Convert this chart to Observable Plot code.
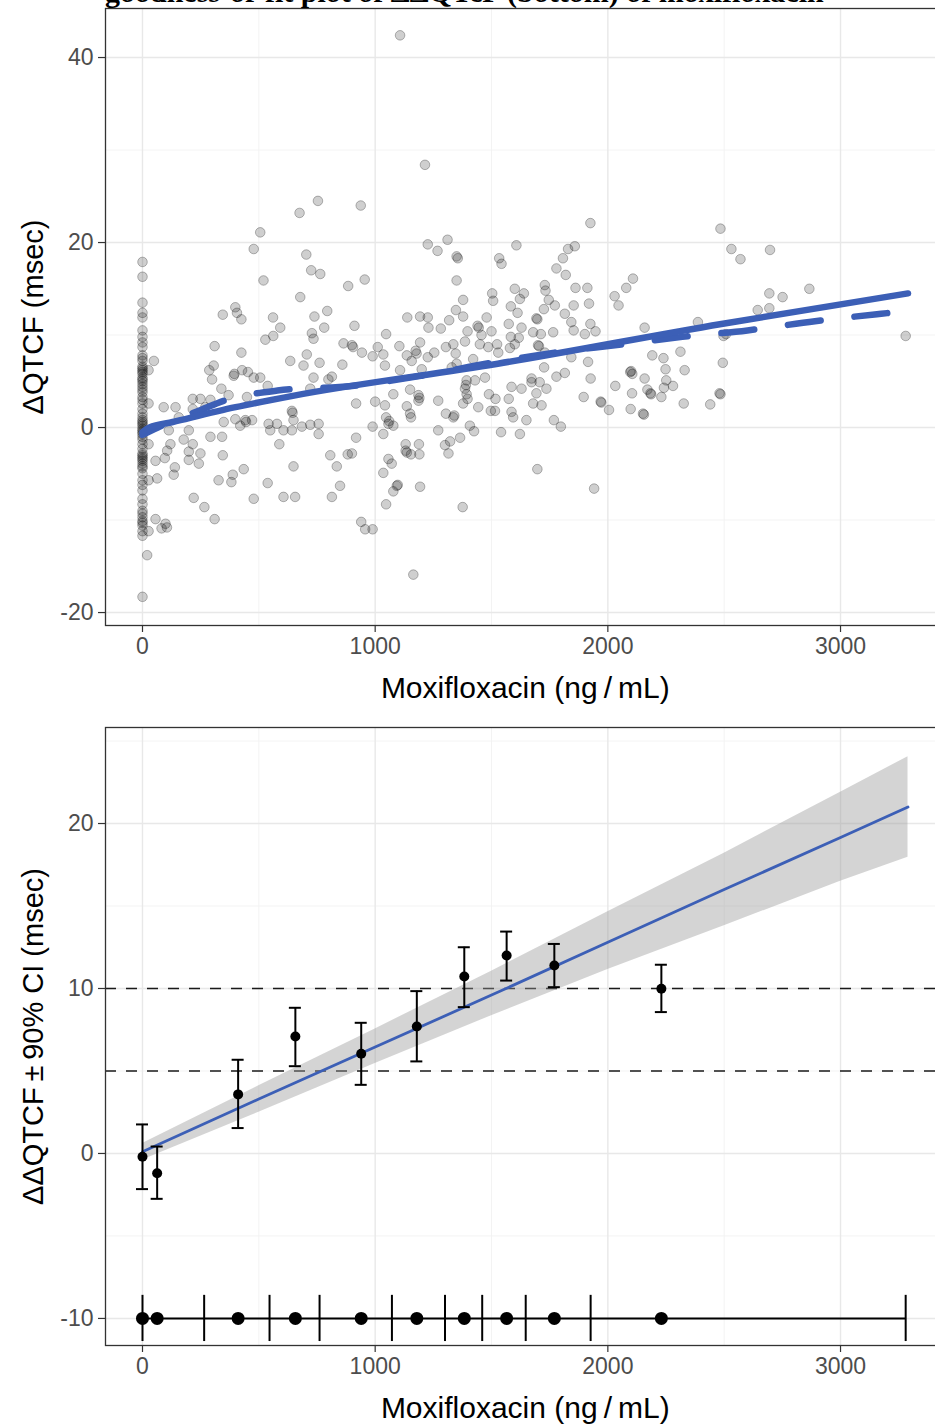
<!DOCTYPE html>
<html>
<head>
<meta charset="utf-8">
<script src="https://cdn.jsdelivr.net/npm/d3@7"></script>
<script src="https://cdn.jsdelivr.net/npm/@observablehq/plot@0.6"></script>
<style>
  html, body { margin: 0; padding: 0; background: #fff; }
  #page { position: relative; width: 935px; height: 1426px; overflow: hidden; background: #fff; }
  #charts { width: 950px; }
  #title { position: absolute; left: 105px; top: -23px; font: bold 30px "Liberation Serif", "Times New Roman", serif; line-height: 30px; white-space: nowrap; color: #000; }
  #page svg { display: block; max-width: none !important; }
</style>
</head>
<body>
<div id="page">
  <div id="charts"></div>
  <div id="title">goodness-of-fit plot of ΔΔQTcF (bottom) of moxifloxacin</div>
</div>
<script>
// ---------------- DATA ----------------
// Top panel: observed ΔQTcF vs moxifloxacin concentration
const placeboDQTcF = [17.9, 16.3, 13.5, 12.4, 11.9, 10.5, 9.8, 9.2, 8.7, 7.8, 7.5, 7.2, 6.6, 6.4, 6.2, 6.0, 5.8, 5.4, 5.2, 5.0, 4.7, 4.4, 4.1, 3.8, 3.3, 3.0, 2.6, 2.0, 1.5, 1.1, 0.8, 0.6, 0.4, 0.2, -0.1, -0.3, -0.5, -0.7, -1.0, -1.3, -1.8, -2.3, -2.8, -3.0, -3.2, -3.4, -3.6, -3.9, -4.2, -4.4, -5.0, -5.7, -6.2, -6.8, -7.7, -8.3, -9.0, -9.3, -9.7, -10.1, -10.3, -10.6, -11.2, -11.7, -18.3];

// [concentration ng/mL, ΔQTcF msec]
const activeObs = [
  [49,7.2],[26,6.2],[26,2.6],[26,-1.8],[26,-5.7],[63,-5.5],[26,-11.2],[56,-9.9],[99,-10.4],[105,-10.8],[82,-10.9],[20,-13.8],
  [506,21.1],[478,19.3],[520,15.9],[345,12.2],[399,13.0],[406,12.4],[425,11.7],[561,11.9],[592,10.8],[562,9.9],[528,9.5],[310,8.8],[425,8.1],[306,6.7],[287,6.2],[299,5.2],[392,5.6],[395,5.8],[428,6.2],[453,6.0],[478,5.4],[506,5.4],[538,4.5],[339,4.2],[370,3.5],[449,3.3],[216,3.1],[249,3.1],[292,3.0],[216,2.0],[91,2.2],[142,2.2],[156,1.1],[270,2.2],[349,0.6],[399,0.9],[442,0.8],[445,0.6],[420,0.2],[471,0.8],[542,0.4],[199,-0.3],[113,-0.3],[292,-1.0],[342,-1.0],[549,-0.3],[578,0.4],[606,-0.3],[588,-1.8],[177,-1.3],[216,-1.8],[120,-1.8],[106,-2.5],[199,-2.6],[249,-2.8],[96,-3.3],[56,-3.6],[199,-3.5],[242,-3.9],[345,-3.0],[139,-4.3],[134,-5.1],[435,-4.5],[388,-5.1],[382,-5.9],[327,-5.7],[538,-6.0],[606,-7.5],[220,-7.6],[478,-7.7],[266,-8.6],[310,-9.9],
  [1107,42.4],[1214,28.4],[754,24.5],[675,23.2],[938,24.0],[1226,19.8],[1311,20.3],[1268,19.1],[1350,18.5],[1355,18.3],[1533,18.3],[1543,17.7],[704,18.7],[725,17.0],[764,16.6],[884,15.3],[955,16.0],[1350,15.9],[678,14.1],[1378,13.8],[1503,14.5],[1507,13.7],[739,12.0],[794,12.6],[781,10.8],[911,11.0],[1138,11.9],[1193,12.0],[1226,11.9],[1229,10.8],[1282,10.7],[1318,11.6],[1347,12.7],[1378,12.0],[1440,11.0],[1445,10.8],[1479,11.9],[1397,10.4],[1457,10.0],[1500,10.4],[735,9.6],[728,10.2],[864,9.1],[900,8.9],[905,8.7],[943,8.1],[989,7.7],[1011,8.7],[1047,10.1],[1035,7.9],[1104,8.8],[1136,7.8],[1174,8.3],[1178,8.0],[1193,9.2],[1226,7.6],[1254,8.1],[1304,8.7],[1336,9.0],[1346,8.0],[1386,9.3],[1421,7.4],[1450,9.0],[1486,8.7],[1524,9.0],[1529,8.1],[635,7.2],[706,7.9],[692,6.7],[761,7.0],[859,6.8],[735,5.4],[799,5.2],[1042,6.7],[1107,6.2],[1157,7.2],[1200,6.3],[1329,6.5],[1350,6.9],[1393,5.1],[1390,4.6],[1386,4.2],[1397,3.1],[1393,3.6],[1378,2.6],[1429,5.1],[1472,5.4],[1489,3.6],[1517,3.1],[1443,2.2],[1497,1.8],[1515,1.8],[721,4.2],[814,5.5],[642,1.8],[645,1.6],[649,0.8],[642,-0.3],[685,0.1],[721,0.3],[757,0.4],[757,-0.7],[918,2.6],[1000,2.8],[1042,2.4],[1078,3.6],[1150,4.1],[1186,3.5],[1190,3.2],[1186,2.9],[1136,2.3],[1150,1.5],[1154,1.1],[1271,2.9],[1304,1.5],[1336,1.1],[1340,1.3],[1047,1.1],[1057,0.4],[1060,0.7],[989,0.1],[1035,-0.7],[1078,0.2],[1271,-0.3],[1407,0.2],[1425,-0.4],[1541,-0.5],[1365,-1.1],[1322,-1.5],[1300,-1.9],[1315,-2.8],[918,-1.1],[807,-3.0],[835,-4.2],[882,-2.9],[900,-2.8],[649,-4.2],[1131,-1.8],[1131,-2.5],[1136,-2.7],[1154,-2.9],[1188,-1.8],[1190,-2.9],[1057,-3.4],[1071,-3.9],[1035,-4.9],[849,-6.3],[814,-7.5],[656,-7.5],[1093,-6.3],[1097,-6.2],[1078,-6.9],[1193,-6.4],[1047,-8.3],[1376,-8.6],[940,-10.2],[957,-11.0],[989,-11.0],[1164,-15.9],
  [1925,22.1],[2484,21.5],[1607,19.7],[1829,19.3],[1858,19.6],[1807,18.3],[1779,17.2],[1819,16.5],[1729,15.4],[1732,14.8],[1600,15.0],[1639,14.5],[1622,13.9],[1861,15.1],[1912,15.1],[2108,16.1],[2079,15.1],[2029,14.2],[2046,13.2],[1746,13.8],[1772,13.2],[1853,13.2],[1919,13.4],[1583,13.1],[1612,12.4],[1725,12.8],[1815,12.3],[1693,11.8],[1697,11.7],[1574,11.2],[1629,10.8],[1843,11.4],[1925,11.2],[1679,10.3],[1712,10.1],[1765,10.3],[1853,10.5],[1901,10.1],[1947,10.4],[1583,9.8],[1617,9.7],[1579,8.6],[1600,9.0],[1700,8.9],[1704,8.8],[1729,8.1],[1843,7.6],[1915,7.1],[2158,10.8],[2387,11.4],[2191,7.8],[2239,7.5],[2312,8.2],[2497,9.9],[2494,7.0],[2248,6.3],[2330,6.2],[2096,6.0],[2100,6.1],[2105,5.8],[2158,5.3],[2251,5.1],[2280,4.5],[2241,4.3],[2170,4.1],[2183,3.7],[2186,3.6],[2230,3.3],[2104,3.7],[2032,4.5],[2480,3.7],[2484,3.6],[2326,2.6],[2440,2.5],[2098,2.0],[2151,1.5],[2155,1.4],[2005,1.9],[1969,2.8],[1972,2.7],[1896,3.3],[1926,5.3],[1815,5.9],[1779,5.5],[1726,6.5],[1672,5.3],[1672,4.9],[1707,4.9],[1736,4.2],[1693,3.7],[1629,4.2],[1586,4.4],[1574,3.1],[1679,2.6],[1715,2.4],[1586,1.7],[1593,1.1],[1650,0.8],[1622,-0.7],[1768,0.8],[1798,0.1],[1697,-4.5],[1941,-6.6],
  [2531,19.3],[2570,18.2],[2697,19.2],[2694,14.5],[2751,14.1],[2866,15.0],[2644,12.7],[2694,12.9],[2508,10.1],[3280,9.9]
];

// Model-predicted (solid) and smooth (dashed) curves, top panel
const modelConc = [0, 30, 130, 400, 640, 1527, 2488, 3290];
const modelDQTcF = [-0.5, 0.0, 0.6, 2.2, 3.4, 6.9, 11.2, 14.5];
const smoothConc = [0, 100, 250, 350, 580, 900, 1200, 1500, 1800, 2030, 2320, 2600, 2890, 3175, 3290];
const smoothDQTcF = [-0.8, 0.4, 1.9, 2.9, 4.0, 4.5, 5.6, 7.0, 8.2, 8.9, 9.8, 10.5, 11.5, 12.3, 12.6];

// Bottom panel: binned ΔΔQTcF with 90% CI
const binMedianConc = [0, 63, 411, 657, 940, 1179, 1383, 1565, 1770, 2230];
const binDDQTcF = [-0.2, -1.2, 3.58, 7.09, 6.04, 7.70, 10.73, 12.0, 11.39, 9.98];
const binLower = [-2.16, -2.75, 1.54, 5.29, 4.16, 5.58, 8.87, 10.48, 10.08, 8.57];
const binUpper = [1.76, 0.42, 5.68, 8.83, 7.92, 9.84, 12.5, 13.45, 12.7, 11.44];
const binEdges = [0, 265, 546, 761, 1072, 1300, 1460, 1647, 1926, 3280];

// Linear fit with 90% confidence band
const fitConc = [0, 500, 1000, 1500, 2000, 2500, 3000, 3290];
const fitMean = [0.1, 3.3, 6.45, 9.6, 12.8, 16.0, 19.15, 21.0];
const fitLower = [-0.4, 2.5, 5.45, 8.35, 11.15, 13.8, 16.5, 17.95];
const fitUpper = [0.6, 4.1, 7.55, 11.05, 14.65, 18.2, 21.9, 24.05];

const thresholds = [5, 10];

// Axis ticks / labels
const xMajor = [0, 1000, 2000, 3000];
const xMinor = [500, 1500, 2500];
const yTopMajor = [-20, 0, 20, 40];
const yTopMinor = [-10, 10, 30];
const yBotMajor = [-10, 0, 10, 20];
const yBotMinor = [-5, 5, 15, 25];
const xTitle = "Moxifloxacin (ng\u2009/\u2009mL)";
const yTopTitle = "ΔQTCF (msec)";
const yBotTitle = "ΔΔQTCF\u2009±\u200990% CI (msec)";

// ---------------- BUILD ----------------
(function () {
const W = 950;
const xDomain = [-159, 3449];
const mLeft = 105, mRight = W - 944.5;
const pxPerUnit = (W - mLeft - mRight) / (xDomain[1] - xDomain[0]);
const capHalf = 6 / pxPerUnit;
const BLUE = "#3c5fb6";
const FONT = "'Liberation Sans', Arial, Helvetica, sans-serif";

const obs = placeboDQTcF.map(v => ({conc: 0, dq: v}))
  .concat(activeObs.map(([c, v]) => ({conc: c, dq: v})));
const model = modelConc.map((c, i) => ({conc: c, v: modelDQTcF[i]}));
const smooth = smoothConc.map((c, i) => ({conc: c, v: smoothDQTcF[i]}));
const bins = binMedianConc.map((c, i) => ({conc: c, v: binDDQTcF[i], lo: binLower[i], hi: binUpper[i]}));
const fit = fitConc.map((c, i) => ({conc: c, m: fitMean[i], lo: fitLower[i], hi: fitUpper[i]}));

function gridMarks(yMajor, yMinor) {
  return [
    Plot.gridX({ticks: xMinor, stroke: "#f2f2f2", strokeOpacity: 1, strokeWidth: 0.9}),
    Plot.gridY({ticks: yMinor, stroke: "#f2f2f2", strokeOpacity: 1, strokeWidth: 0.9}),
    Plot.gridX({ticks: xMajor, stroke: "#e8e8e8", strokeOpacity: 1, strokeWidth: 1.4}),
    Plot.gridY({ticks: yMajor, stroke: "#e8e8e8", strokeOpacity: 1, strokeWidth: 1.4})
  ];
}
function axisMarks(yMajor, yTitle) {
  return [
    Plot.frame({stroke: "#333", strokeWidth: 1.3}),
    Plot.axisX({ticks: xMajor, tickSize: 7, tickPadding: 5, fontSize: 23, color: "#4d4d4d", stroke: "#333", strokeWidth: 1.2, label: null, tickFormat: d => String(d)}),
    Plot.axisY({ticks: yMajor, tickSize: 7, tickPadding: 5, fontSize: 23, color: "#4d4d4d", stroke: "#333", strokeWidth: 1.2, label: null, tickFormat: d => String(d)}),
    Plot.text([xTitle], {frameAnchor: "bottom", dy: 72, lineAnchor: "bottom", textAnchor: "middle", fontSize: 30, fill: "#000", text: d => d}),
    Plot.text([yTitle], {frameAnchor: "left", dx: -72, rotate: -90, textAnchor: "middle", lineAnchor: "middle", fontSize: 29, fill: "#000", text: d => d})
  ];
}

const topChart = Plot.plot({
  width: W, height: 710,
  marginLeft: mLeft, marginRight: mRight, marginTop: 8, marginBottom: 85,
  style: {fontFamily: FONT, background: "#fff", maxWidth: "none"},
  x: {domain: xDomain},
  y: {domain: [-21.4, 45.3]},
  marks: [
    ...gridMarks(yTopMajor, yTopMinor),
    Plot.dot(obs, {x: "conc", y: "dq", r: 4.8, fill: "#000", fillOpacity: 0.19, stroke: "#000", strokeOpacity: 0.3, strokeWidth: 0.9}),
    Plot.line(smooth, {x: "conc", y: "v", stroke: BLUE, strokeWidth: 6.5, strokeDasharray: "33,34", strokeDashoffset: 12, curve: "monotone-x"}),
    Plot.line(model, {x: "conc", y: "v", stroke: BLUE, strokeWidth: 6.5, curve: "monotone-x"}),
    ...axisMarks(yTopMajor, yTopTitle)
  ]
});

const bottomChart = Plot.plot({
  width: W, height: 716,
  marginLeft: mLeft, marginRight: mRight, marginTop: 17, marginBottom: 81,
  style: {fontFamily: FONT, background: "#fff", maxWidth: "none"},
  x: {domain: xDomain},
  y: {domain: [-11.64, 25.82]},
  marks: [
    ...gridMarks(yBotMajor, yBotMinor),
    Plot.ruleY(thresholds, {stroke: "#1a1a1a", strokeWidth: 1.7, strokeDasharray: "11,10"}),
    Plot.areaY(fit, {x: "conc", y1: "lo", y2: "hi", fill: "#999", fillOpacity: 0.42}),
    Plot.line(fit, {x: "conc", y: "m", stroke: BLUE, strokeWidth: 2.8}),
    Plot.ruleX(bins, {x: "conc", y1: "lo", y2: "hi", stroke: "#000", strokeWidth: 2}),
    Plot.ruleY(bins, {y: "hi", x1: d => d.conc - capHalf, x2: d => d.conc + capHalf, stroke: "#000", strokeWidth: 2}),
    Plot.ruleY(bins, {y: "lo", x1: d => d.conc - capHalf, x2: d => d.conc + capHalf, stroke: "#000", strokeWidth: 2}),
    Plot.dot(bins, {x: "conc", y: "v", r: 5, fill: "#000"}),
    Plot.ruleY([-10], {x1: binEdges[0], x2: binEdges[binEdges.length - 1], stroke: "#000", strokeWidth: 2}),
    Plot.ruleX(binEdges, {x: d => d, y1: -11.4, y2: -8.6, stroke: "#000", strokeWidth: 2}),
    Plot.dot(binMedianConc, {x: d => d, y: () => -10, r: 6.5, fill: "#000"}),
    ...axisMarks(yBotMajor, yBotTitle)
  ]
});

document.getElementById("charts").append(topChart, bottomChart);
})();
</script>
</body>
</html>
